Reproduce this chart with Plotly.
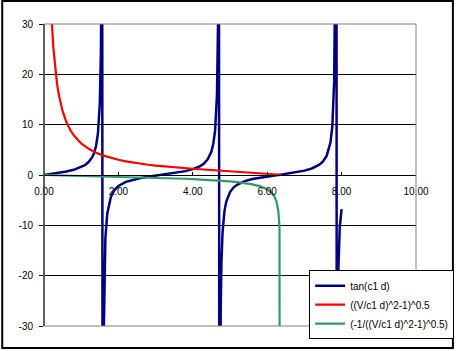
import plotly.graph_objects as go

# ---- data ----
tan_x = [0.0, 0.2, 0.4, 0.6, 0.8, 1.0, 1.1, 1.2, 1.3, 1.35, 1.4, 1.45, 1.5, 1.53, 1.55, 1.56,
         1.58, 1.59, 1.6, 1.62, 1.65, 1.7, 1.8, 1.9, 2.0, 2.2, 2.4, 2.6, 2.8, 3.0, 3.2, 3.4,
         3.6, 3.8, 4.0, 4.2, 4.3, 4.4, 4.5, 4.55, 4.6, 4.65, 4.68, 4.7,
         4.72, 4.73, 4.75, 4.77, 4.8, 4.85, 4.9, 5.0, 5.1, 5.2, 5.4, 5.6, 5.8, 6.0, 6.2, 6.4,
         6.6, 6.8, 7.0, 7.2, 7.4, 7.5, 7.6, 7.7, 7.75, 7.8, 7.83, 7.85,
         7.87, 7.9, 7.95, 8.0]
tan_y = [0.0, 0.20, 0.42, 0.68, 1.03, 1.56, 1.96, 2.57, 3.60, 4.46, 5.80, 8.24, 14.1, 24.5, 48.1, 92.6,
         -108.6, -52.1, -34.2, -20.3, -12.6, -7.70, -4.29, -2.93, -2.19, -1.37, -0.92, -0.60, -0.36, -0.14, 0.06, 0.26,
         0.49, 0.77, 1.16, 1.78, 2.28, 3.10, 4.64, 6.17, 8.86, 16.0, 30.9, 80.7,
         -131.0, -56.8, -26.6, -17.3, -11.4, -7.22, -5.27, -3.38, -2.45, -1.89, -1.22, -0.81, -0.52, -0.29, -0.08, 0.12,
         0.33, 0.57, 0.87, 1.30, 2.05, 2.70, 3.85, 6.44, 9.58, 18.5, 41.7, 251.0,
         -62.5, -21.7, -10.4, -6.80]

v_x = [0.0, 0.1, 0.2, 0.25, 0.3, 0.35, 0.4, 0.5, 0.6, 0.7, 0.8, 0.9, 1.0, 1.2, 1.4, 1.6, 1.8, 2.0,
       2.2, 2.4, 2.6, 2.8, 3.0, 3.2, 3.4, 3.6, 3.8, 4.0, 4.2, 4.4, 4.6, 4.8, 5.0, 5.2, 5.4,
       5.6, 5.8, 6.0, 6.1, 6.2, 6.25, 6.3, 6.33, 6.35, 6.36]
red_y = [None, 63.6, 31.78, 25.42, 21.18, 18.14, 15.87, 12.68, 10.55, 9.03, 7.89, 6.99, 6.28, 5.20, 4.43,
         3.85, 3.39, 3.02, 2.71, 2.45, 2.23, 2.04, 1.87, 1.72, 1.58, 1.46, 1.34, 1.24, 1.14, 1.04,
         0.955, 0.869, 0.786, 0.704, 0.622, 0.538, 0.450, 0.352, 0.295, 0.229, 0.189, 0.138, 0.0975,
         0.0562, 0.0]
green_y = [0.0, -0.016, -0.031, -0.039, -0.047, -0.055, -0.063, -0.079, -0.095, -0.111, -0.127, -0.143,
           -0.159, -0.192, -0.226, -0.260, -0.295, -0.331, -0.369, -0.408, -0.448, -0.490, -0.535,
           -0.581, -0.633, -0.685, -0.746, -0.806, -0.877, -0.962, -1.05, -1.15, -1.27, -1.42,
           -1.61, -1.86, -2.22, -2.84, -3.39, -4.37, -5.29, -7.25, -10.3, -17.8, -200.0]

names = ["tan(c1 d)", "((V/c1 d)^2-1)^0.5", "(-1/((V/c1 d)^2-1)^0.5)"]
colors = ["#000080", "#FF0000", "#339966"]

y_ticks = [-30, -20, -10, 0, 10, 20, 30]
y_ticktext = ["-30", "-20", "-10", "0", "10", "20", "30"]
x_ticks = [0, 2, 4, 6, 8, 10]
x_ticktext = ["0.00", "2.00", "4.00", "6.00", "8.00", "10.00"]

FONT = "Liberation Sans, Arial, sans-serif"

fig = go.Figure()
fig.add_trace(go.Scatter(x=tan_x, y=tan_y, mode="lines", name=names[0],
                         line=dict(color=colors[0], width=2.5)))
fig.add_trace(go.Scatter(x=v_x, y=red_y, mode="lines", name=names[1],
                         line=dict(color=colors[1], width=2.2)))
fig.add_trace(go.Scatter(x=v_x, y=green_y, mode="lines", name=names[2],
                         line=dict(color=colors[2], width=2.2)))

fig.update_layout(
    width=466, height=351,
    margin=dict(l=44, r=39, t=24, b=24, pad=0),
    paper_bgcolor="white", plot_bgcolor="white",
    font=dict(family=FONT, size=10, color="black"),
    showlegend=True,
    legend=dict(x=(317 - 44) / 383, y=(327 - 271) / 303, xanchor="left", yanchor="top",
                bgcolor="white", bordercolor="black", borderwidth=1,
                font=dict(family=FONT, size=10, color="black"),
                itemwidth=30, tracegroupgap=0),
    xaxis=dict(range=[0, 10], tickvals=x_ticks, ticktext=x_ticktext,
               showgrid=False, zeroline=False, showline=True, linecolor="black", linewidth=1,
               ticks="inside", ticklen=3, tickcolor="black",
               anchor="free", position=0.5, side="bottom",
               ticklabelstandoff=7,
               tickfont=dict(family=FONT, size=10, color="black")),
    yaxis=dict(range=[-30, 30], tickvals=y_ticks, ticktext=y_ticktext,
               showgrid=True, gridcolor="black", gridwidth=1, zeroline=False,
               showline=False,
               ticks="outside", ticklen=4, tickcolor="black",
               ticklabelstandoff=4,
               tickfont=dict(family=FONT, size=10, color="black")),
    shapes=[
        dict(type="rect", xref="x domain", yref="y domain", x0=0, x1=1, y0=0, y1=1,
             line=dict(color="#808080", width=1), layer="above"),
        dict(type="line", xref="x domain", yref="y domain", x0=0, x1=0, y0=0, y1=1,
             line=dict(color="black", width=1), layer="above"),
        dict(type="rect", xref="paper", yref="paper",
             x0=(1 - 44) / 383, x1=(465 - 44) / 383,
             y0=(327 - 349) / 303, y1=(327 - 1) / 303,
             line=dict(color="black", width=2), layer="above"),
    ],
)

fig.write_html("out.html")
